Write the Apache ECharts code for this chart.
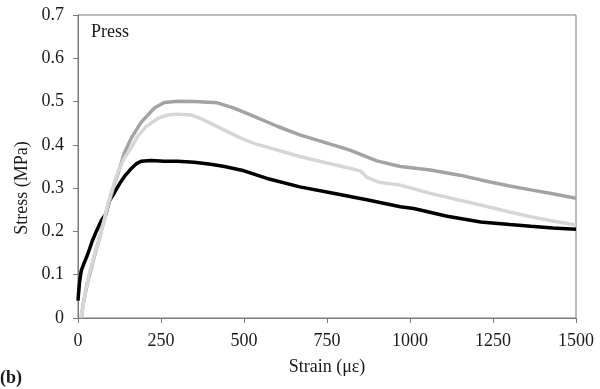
<!DOCTYPE html>
<html>
<head>
<meta charset="utf-8">
<script src="https://cdn.jsdelivr.net/npm/echarts@6/dist/echarts.min.js"></script>
<style>html,body{margin:0;padding:0;background:#fff}#c{width:600px;height:389px}</style>
</head>
<body>
<div id="c"></div>
<script>
// Strain (με) and stress (MPa) for three specimens
var strainBlack = [0,2,5,10,18,28,35,43,55,70,84,94,110,125,140,160,175,190,220,260,300,350,400,441,500,567,668,769,870,971,1011,1112,1213,1300,1364,1430,1500];
var stressBlack = [0.04,0.06,0.085,0.11,0.126,0.145,0.16,0.178,0.2,0.225,0.24,0.27,0.29,0.31,0.327,0.345,0.356,0.362,0.364,0.362,0.362,0.36,0.355,0.35,0.34,0.323,0.303,0.288,0.273,0.257,0.253,0.235,0.222,0.216,0.212,0.208,0.205];

var strainDark = [10,15,20,28,35,50,65,80,95,110,124,139,160,190,230,260,300,350,420,470,532,600,668,750,819,900,971,1061,1150,1213,1300,1364,1430,1500];
var stressDark = [0,0.03,0.05,0.08,0.1,0.145,0.185,0.23,0.27,0.31,0.342,0.38,0.415,0.452,0.485,0.498,0.501,0.5,0.497,0.485,0.465,0.443,0.423,0.404,0.388,0.363,0.35,0.342,0.33,0.319,0.305,0.296,0.287,0.2765];

var strainLight = [8,13,18,23,28,33,48,63,79,89,100,119,140,159,180,205,240,270,300,341,366,391,441,492,532,600,668,750,819,850,870,910,971,1061,1150,1213,1300,1364,1430,1500];
var stressLight = [0,0.018,0.04,0.065,0.08,0.1,0.142,0.18,0.226,0.26,0.29,0.335,0.37,0.392,0.42,0.442,0.461,0.469,0.471,0.469,0.462,0.453,0.434,0.415,0.403,0.388,0.373,0.358,0.346,0.34,0.325,0.313,0.307,0.288,0.272,0.261,0.245,0.234,0.224,0.215];

var xTicks = [0,250,500,750,1000,1250,1500];
var yTicks = [0,0.1,0.2,0.3,0.4,0.5,0.6,0.7];

function pairs(xs, ys){ return xs.map(function(x,i){ return [x, ys[i]]; }); }

var font = '"Liberation Serif", "Times New Roman", serif';
var axisGray = '#7a7a7a';
var textColor = '#1a1a1a';
var chart = echarts.init(document.getElementById('c'));
chart.setOption({
  animation: false,
  grid: { left: 78, right: 24, top: 15, bottom: 71, show: true, borderColor: axisGray, borderWidth: 1, backgroundColor: 'transparent' },
  xAxis: {
    type: 'value', min: xTicks[0], max: xTicks[xTicks.length-1], interval: 250,
    axisLine: { show: true, lineStyle: { color: axisGray } },
    axisTick: { show: true, inside: false, length: 5, lineStyle: { color: axisGray } },
    splitLine: { show: false },
    axisLabel: { color: textColor, fontFamily: font, fontSize: 18, margin: 14, formatter: function(v){ return String(v); } },
    name: 'Strain (με)', nameLocation: 'middle', nameGap: 40,
    nameTextStyle: { color: textColor, fontFamily: font, fontSize: 18 }
  },
  yAxis: {
    type: 'value', min: yTicks[0], max: yTicks[yTicks.length-1], interval: 0.1,
    axisLine: { show: true, lineStyle: { color: axisGray } },
    axisTick: { show: true, inside: false, length: 5, lineStyle: { color: axisGray } },
    splitLine: { show: false },
    axisLabel: { color: textColor, fontFamily: font, fontSize: 18, margin: 14, formatter: function(v){ return String(Math.round(v*10)/10); } }
  },
  graphic: [
    { type: 'text', left: 91, top: 23, style: { text: 'Press', font: '18px ' + font, fill: textColor } },
    { type: 'text', left: 0, top: 369, style: { text: '(b)', font: 'bold 18px ' + font, fill: textColor } },
    { type: 'text', x: 22, y: 188, rotation: Math.PI/2, style: { text: 'Stress (MPa)', font: '18px ' + font, fill: textColor, align: 'center', verticalAlign: 'middle' } }
  ],
  series: [
    { type: 'line', data: pairs(strainBlack, stressBlack), showSymbol: false, lineStyle: { color: '#000', width: 3.5 }, z: 2 },
    { type: 'line', data: pairs(strainDark, stressDark), showSymbol: false, lineStyle: { color: '#a3a3a3', width: 3.5 }, z: 3 },
    { type: 'line', data: pairs(strainLight, stressLight), showSymbol: false, lineStyle: { color: '#d6d6d6', width: 3.5 }, z: 4 }
  ]
});
</script>
</body>
</html>
